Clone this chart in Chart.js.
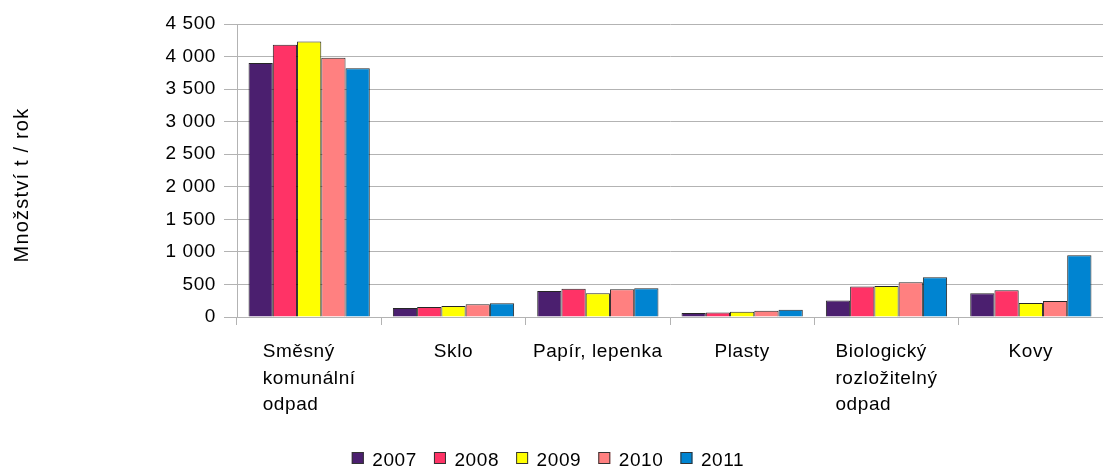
<!DOCTYPE html>
<html>
<head>
<meta charset="utf-8">
<script src="https://cdn.jsdelivr.net/npm/chart.js@4"></script>
<style>
  html, body { margin: 0; padding: 0; background: #fff; }
  #wrap { width: 1103px; height: 468px; position: relative; }
</style>
</head>
<body>
<div id="wrap"><canvas id="odpadChart"></canvas></div>
<script>
// kategorie odpadu (víceřádkové popisky jako pole řádků)
var categories = [
    ['Směsný', 'komunální', 'odpad'],
    ['Sklo'],
    ['Papír, lepenka'],
    ['Plasty'],
    ['Biologický', 'rozložitelný', 'odpad'],
    ['Kovy']
];
var years = ['2007', '2008', '2009', '2010', '2011'];
var colors = ['#4b1f6f', '#ff3366', '#ffff00', '#ff8080', '#0084d1'];

// množství v t / rok
var v2007 = [3900, 140, 400, 60, 255, 365];
var v2008 = [4180, 155, 435, 70, 470, 410];
var v2009 = [4230, 170, 365, 80, 475, 215];
var v2010 = [3980, 195, 425, 95, 535, 245];
var v2011 = [3820, 210, 440, 110, 610, 950];
var values = [v2007, v2008, v2009, v2010, v2011];

var yTicks = [0, 500, 1000, 1500, 2000, 2500, 3000, 3500, 4000, 4500];
var yTitle = 'Množství t / rok';

var FAMILY = "'Liberation Sans', Arial, sans-serif";
var FONT = '19px ' + FAMILY;
var SPACING = '0.6px';
var gridColor = '#b3b3b3';

function formatNum(v) {
    return String(v).replace(/\B(?=(\d{3})+(?!\d))/g, ' ');
}

// trochu širší písmo pro všechny texty v grafu
var spacing = {
    id: 'spacing',
    beforeDraw: function(chart) {
        chart.ctx.letterSpacing = SPACING;
    }
};

// popisky os a legenda se kreslí vlastním pluginem
var extraText = {
    id: 'extraText',
    afterDraw: function(chart) {
        var ctx = chart.ctx;
        var xs = chart.scales.x;
        ctx.save();
        ctx.letterSpacing = SPACING;
        ctx.font = FONT;
        ctx.fillStyle = '#000';
        ctx.textBaseline = 'alphabetic';
        ctx.textAlign = 'left';

        // popisky kategorií - řádky zarovnané vlevo, blok na středu
        categories.forEach(function(lines, i) {
            var cx = xs.getPixelForValue(i);
            var w = 0;
            lines.forEach(function(l) { w = Math.max(w, ctx.measureText(l).width); });
            lines.forEach(function(l, j) {
                ctx.fillText(l, cx - w / 2, 357 + j * 26.5);
            });
        });

        // titulek osy y
        ctx.save();
        ctx.font = '20px ' + FAMILY;
        ctx.letterSpacing = '1.2px';
        ctx.translate(27.5, 185);
        ctx.rotate(-Math.PI / 2);
        ctx.textAlign = 'center';
        ctx.fillText(yTitle, 0, 0);
        ctx.restore();

        // legenda
        var box = 12, gap = 8.5, space = 17;
        var total = 0;
        years.forEach(function(y, i) {
            total += box + gap + ctx.measureText(y).width + (i < years.length - 1 ? space : 0);
        });
        var x = 548 - total / 2;
        years.forEach(function(y, i) {
            ctx.fillStyle = colors[i];
            ctx.fillRect(x, 452, box, box);
            ctx.strokeStyle = '#333';
            ctx.lineWidth = 1;
            ctx.strokeRect(x + 0.5, 452.5, box - 1, box - 1);
            ctx.fillStyle = '#000';
            ctx.fillText(y, x + box + gap, 466);
            x += box + gap + ctx.measureText(y).width + space;
        });
        ctx.restore();
    }
};

var ctx = document.getElementById('odpadChart').getContext('2d');
var chart = new Chart(ctx, {
    type: 'bar',
    data: {
        labels: categories,
        datasets: years.map(function(y, i) {
            return {
                label: y,
                data: values[i],
                backgroundColor: colors[i],
                borderColor: 'rgba(0, 0, 0, 0.85)',
                borderWidth: 1,
                barPercentage: 1,
                categoryPercentage: 0.84
            };
        })
    },
    options: {
        responsive: true,
        maintainAspectRatio: false,
        animation: false,
        layout: { padding: { top: 24, right: 0, bottom: 0, left: 0 } },
        plugins: {
            legend: { display: false },
            tooltip: { enabled: false }
        },
        scales: {
            x: {
                offset: true,
                grid: {
                    offset: true,
                    drawOnChartArea: false,
                    drawTicks: true,
                    tickLength: 8,
                    color: gridColor
                },
                border: { color: gridColor },
                ticks: { display: false },
                afterFit: function(scale) { scale.height = 151; }
            },
            y: {
                min: 0,
                max: 4500,
                grid: {
                    color: gridColor,
                    drawTicks: true,
                    tickLength: 13
                },
                border: { color: gridColor },
                afterBuildTicks: function(scale) {
                    scale.ticks = yTicks.map(function(v) { return { value: v }; });
                },
                ticks: {
                    padding: 8,
                    color: '#000',
                    font: { family: FAMILY, size: 19 },
                    callback: function(v) { return formatNum(v); }
                },
                afterFit: function(scale) { scale.width = 237; }
            }
        }
    },
    plugins: [spacing, extraText]
});
</script>
</body>
</html>
